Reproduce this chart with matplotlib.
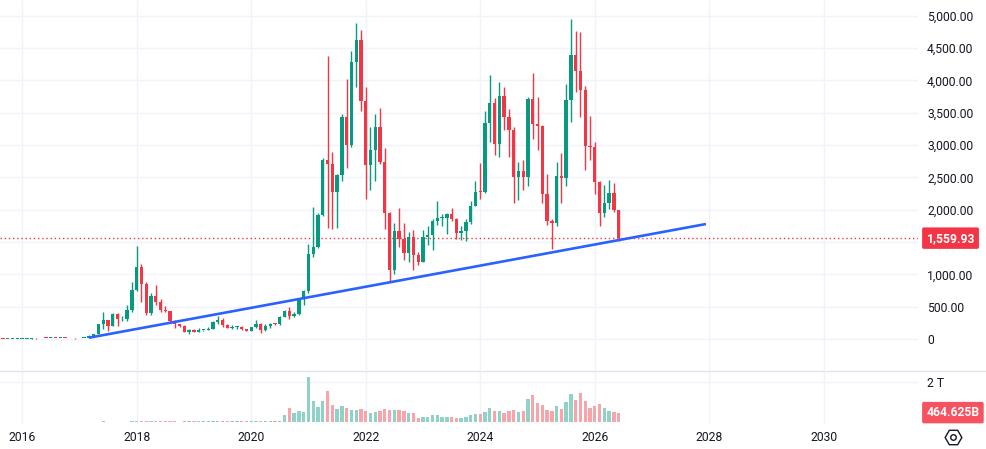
import numpy as np
import matplotlib
matplotlib.use('Agg')
import matplotlib.pyplot as plt
from matplotlib.lines import Line2D

plt.rcParams['font.family'] = ['Roboto', 'DejaVu Sans']

# monthly candles, Aug 2015 .. Jun 2026
start_year, start_month = 2015, 8

opens = [2.83, 1.36, 0.74, 0.87, 0.88,
         0.93, 2.18, 6.25, 11.4, 8.85, 14.0, 12.4, 12.8, 11.2, 13.2, 10.8, 8.6,
         7.97, 10.7, 16.1, 50, 79.8, 230, 293, 201, 388, 303, 305, 447,
         756, 1118, 855, 395, 670, 577, 455, 433, 283, 232, 198, 113,
         133, 107, 136, 141, 160, 268, 294, 218, 172, 180, 182, 152,
         130, 179, 226, 133, 206, 231, 226, 345, 434, 360, 386, 618,
         737, 1312, 1418, 1919, 2773, 2706, 2275, 2530, 3433, 3001, 4288, 4631,
         3682, 2688, 2919, 3282, 2730, 1942, 1067, 1678, 1553, 1328, 1573, 1295,
         1196, 1585, 1605, 1821, 1869, 1874, 1934, 1856, 1645, 1671, 1816, 2052,
         2281, 2275, 3340, 3646, 3014, 3760, 3437, 3232, 2513, 2603, 2512, 3705,
         3332, 3300, 2237, 1822, 1794, 2528, 2486, 3698, 4391, 4146, 3848, 2990,
         2967, 2427, 1954, 2099, 2253, 1996]
highs = [2.83, 1.39, 1.12, 1.07, 0.98,
         2.54, 6.70, 15.0, 11.8, 14.8, 21.4, 14.9, 12.9, 13.7, 13.2, 11.2, 8.9,
         11.6, 16.6, 55, 80, 232, 415, 300, 400, 400, 350, 520, 880,
         1432, 1160, 880, 706, 835, 620, 515, 435, 300, 235, 222, 157,
         160, 166, 146, 186, 285, 363, 321, 238, 224, 198, 194, 152,
         185, 287, 250, 227, 246, 253, 350, 445, 488, 422, 622, 756,
         1476, 2036, 1946, 2797, 4372, 2891, 2551, 3473, 4027, 4460, 4891, 4778,
         3900, 3282, 3482, 3580, 2960, 1970, 1790, 2030, 1790, 1660, 1680, 1350,
         1680, 1745, 1860, 2140, 1930, 1950, 2030, 1870, 1750, 1860, 2130, 2450,
         2718, 3520, 4090, 3730, 3980, 3890, 3560, 3280, 2730, 2770, 3740, 4107,
         3740, 3310, 2550, 1860, 2740, 2880, 3940, 4956, 4770, 4750, 3920, 3450,
         3050, 2450, 2380, 2460, 2420, 2000]
lows = [0.42, 0.58, 0.41, 0.80, 0.80,
        0.93, 2.10, 6.0, 6.9, 8.5, 11.5, 10.5, 10.1, 11.1, 10.3, 8.3, 6.9,
        7.94, 10.4, 15.6, 42.7, 78, 150, 130, 200, 200, 285, 283, 413,
        742, 566, 365, 370, 520, 410, 425, 260, 167, 190, 104, 82,
        102, 101, 127, 139, 157, 230, 189, 165, 153, 158, 141, 119,
        127, 177, 90, 128, 177, 215, 220, 343, 308, 333, 371, 531,
        714, 1272, 1400, 1898, 1719, 1700, 1717, 2450, 2651, 2970, 3905, 3524,
        2159, 2300, 2450, 2700, 1700, 880, 1000, 1420, 1220, 1190, 1073, 1150,
        1190, 1460, 1370, 1770, 1740, 1620, 1830, 1550, 1530, 1520, 1780, 2050,
        2160, 2260, 3050, 2850, 2810, 3240, 2810, 2110, 2150, 2310, 2360, 3100,
        2920, 2100, 1760, 1385, 1750, 2110, 2370, 3350, 3820, 3435, 2620, 2770,
        2250, 1750, 1880, 2010, 1970, 1516]
closes = [1.35, 0.74, 0.87, 0.88, 0.93,
          2.18, 6.25, 11.4, 8.85, 14.0, 12.4, 12.8, 11.2, 13.2, 10.8, 8.6, 7.97,
          10.7, 16.1, 50, 79.8, 230, 293, 201, 388, 303, 305, 447, 756,
          1118, 855, 395, 670, 577, 455, 433, 283, 232, 198, 113, 133,
          107, 136, 141, 160, 268, 294, 218, 172, 180, 182, 152, 130,
          179, 226, 133, 206, 231, 226, 345, 434, 360, 386, 618, 737,
          1312, 1418, 1919, 2773, 2706, 2275, 2530, 3433, 3001, 4288, 4631, 3682,
          2688, 2919, 3282, 2730, 1942, 1067, 1678, 1553, 1328, 1573, 1295, 1196,
          1585, 1605, 1821, 1869, 1874, 1934, 1856, 1645, 1671, 1816, 2052, 2281,
          2275, 3340, 3646, 3014, 3760, 3437, 3232, 2513, 2603, 2512, 3705, 3332,
          3300, 2237, 1822, 1794, 2528, 2486, 3698, 4391, 4146, 3848, 2990, 2967,
          2427, 1954, 2099, 2253, 1996, 1559.93]
# volume in trillions
volumes = [0.0001, 0.0001, 0.0001, 0.0001, 0.0001,
           0.001, 0.001, 0.002, 0.002, 0.002, 0.003, 0.002, 0.002, 0.002, 0.002, 0.002, 0.002,
           0.005, 0.005, 0.01, 0.01, 0.02, 0.03, 0.02, 0.02, 0.02, 0.01, 0.02, 0.04,
           0.06, 0.04, 0.03, 0.03, 0.04, 0.03, 0.03, 0.03, 0.03, 0.02, 0.03, 0.03,
           0.03, 0.03, 0.03, 0.04, 0.06, 0.06, 0.05, 0.04, 0.04, 0.04, 0.03, 0.03,
           0.04, 0.06, 0.05, 0.07, 0.05, 0.05, 0.06, 0.35, 0.69, 0.45, 0.55, 0.50,
           2.25, 1.04, 0.74, 1.04, 1.54, 0.84, 0.65, 0.79, 0.69, 0.60, 0.60, 0.65,
           0.55, 0.45, 0.50, 0.55, 0.65, 0.60, 0.60, 0.60, 0.55, 0.45, 0.45, 0.20,
           0.25, 0.25, 0.35, 0.35, 0.25, 0.25, 0.25, 0.20, 0.20, 0.25, 0.35, 0.40,
           0.40, 0.50, 0.69, 0.55, 0.55, 0.45, 0.55, 0.60, 0.50, 0.55, 1.14, 1.34,
           0.94, 0.84, 0.60, 0.55, 0.79, 0.65, 0.99, 1.39, 1.09, 1.44, 1.04, 0.69,
           0.79, 0.89, 0.69, 0.55, 0.50, 0.4646]

# trend line end points (decimal year, price)
trend_x = [2017.17, 2027.94]
trend_y = [20, 1778]

last_price = 1559.93
year_ticks = [2016, 2018, 2020, 2022, 2024, 2026, 2028, 2030]
price_ticks = [0, 500, 1000, 1500, 2000, 2500, 3000, 3500, 4000, 4500, 5000]

up_col = '#089981'
down_col = '#f23645'
grid_col = '#f0f3fa'
text_col = '#131722'

o = np.array(opens)
h = np.array(highs)
l = np.array(lows)
c = np.array(closes)
v = np.array(volumes)
t = start_year + (start_month - 1 + np.arange(len(o))) / 12.0
up = c >= o
cols = np.where(up, up_col, down_col)
vcols = np.where(up, '#8fd3c8', '#f7a5ab')

W, H = 986, 449
fig = plt.figure(figsize=(W / 100, H / 100), dpi=100)
ax = fig.add_axes([0, 1 - 370 / H, 918 / W, 370 / H])
axv = fig.add_axes([0, 1 - 424 / H, 918 / W, 53 / H], sharex=ax)

# x range: 57.27 px per year, 2016 at x=22
x0 = 2016 - 22.1 / 57.27
ax.set_xlim(x0, x0 + 918 / 57.27)
ax.set_ylim((339 - 370) / 0.06466, 339 / 0.06466)
axv.set_ylim(-0.1, 2.53)

for a in (ax, axv):
    for s in a.spines.values():
        s.set_visible(False)
    a.set_xticks(year_ticks)
    a.grid(True, color=grid_col, linewidth=1)
    a.set_axisbelow(True)
    a.yaxis.tick_right()
    a.tick_params(length=0, labelsize=8.7, colors=text_col, pad=6.5)

# the 1,500 label sits under the last-price tag, so leave it blank
ax.set_yticks(price_ticks)
ax.set_yticklabels(['0'] + ['' if p == 1500 else '{:,.2f}'.format(p) for p in price_ticks[1:]])
ax.tick_params(axis='x', labelbottom=False)
axv.set_yticks([2])
axv.set_yticklabels(['2 T'])
axv.set_xticklabels([str(y) for y in year_ticks])
axv.tick_params(axis='x', pad=5)

# candles
w = 0.7 / 12
ax.vlines(t, l, h, colors=cols, linewidth=1, zorder=3)
body = np.maximum(np.abs(c - o), 14)
ax.bar(t, body, bottom=np.minimum(o, c), width=w, color=cols, linewidth=0, zorder=4)

# trend line and last price line
ax.plot(trend_x, trend_y, color='#2962ff', linewidth=1.9, zorder=5, solid_capstyle='butt')
ax.axhline(last_price, color=down_col, linewidth=1, linestyle=(0, (1, 2)), zorder=2)

# volume
axv.bar(t, v, width=w, color=vcols, linewidth=0, zorder=3)

# pane separator
fig.add_artist(Line2D([0, 1], [1 - 370.5 / H] * 2, color='#e0e3eb', linewidth=1,
                      transform=fig.transFigure))

# last value labels
ax.annotate('{:,.2f}'.format(last_price), xy=(1, last_price), xycoords=('axes fraction', 'data'),
            xytext=(6, 0), textcoords='offset points', va='center', ha='left',
            color='white', fontsize=8.7, fontweight='bold',
            bbox=dict(boxstyle='round,pad=0.35,rounding_size=0.15', fc=down_col, ec='none'))
axv.annotate('464.625B', xy=(1, 0.4646), xycoords=('axes fraction', 'data'),
             xytext=(6, 0), textcoords='offset points', va='center', ha='left',
             color='white', fontsize=8.7, fontweight='bold',
             bbox=dict(boxstyle='round,pad=0.35,rounding_size=0.15', fc='#f7525f', ec='none'))

# settings icon
fig.add_artist(Line2D([953 / W], [1 - 437 / H], marker='H', markersize=12, mfc='none',
                      mec=text_col, mew=1, transform=fig.transFigure))
fig.add_artist(Line2D([953 / W], [1 - 437 / H], marker='o', markersize=4, mfc='none',
                      mec=text_col, mew=1, transform=fig.transFigure))

fig.savefig('out.png', dpi=100, facecolor='white')
